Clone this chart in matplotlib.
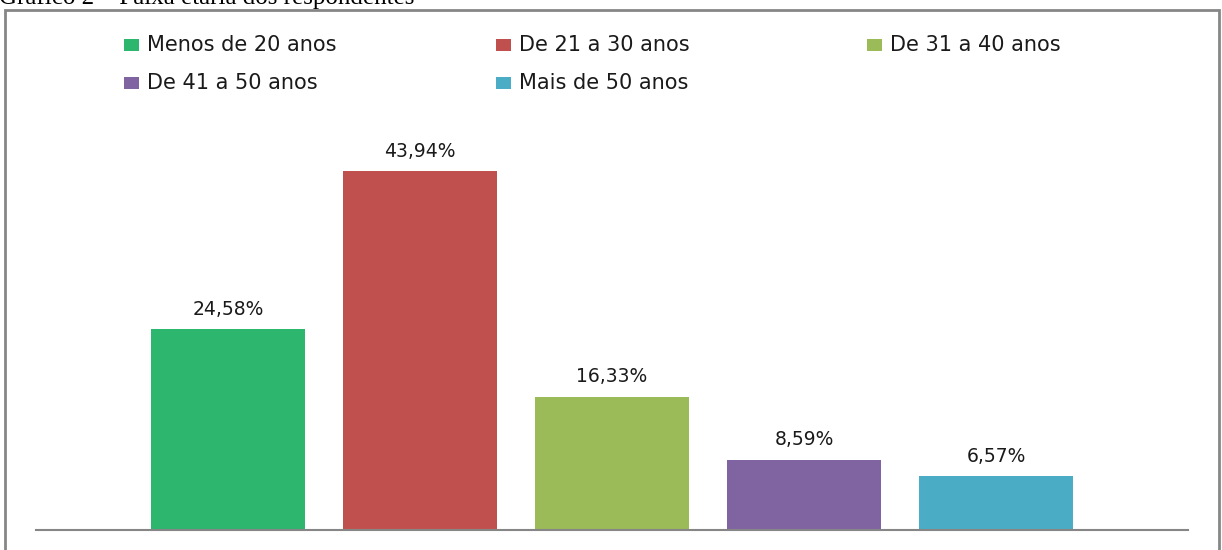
import matplotlib
matplotlib.use("Agg")
import matplotlib.pyplot as plt
from matplotlib.patches import Rectangle

categories = ["Menos de 20 anos", "De 21 a 30 anos", "De 31 a 40 anos",
              "De 41 a 50 anos", "Mais de 50 anos"]
values = [24.58, 43.94, 16.33, 8.59, 6.57]
value_labels = ["24,58%", "43,94%", "16,33%", "8,59%", "6,57%"]
colors = ["#2DB66E", "#C0504D", "#9BBB59", "#8064A2", "#4BACC6"]
title = "Gráfico 2 – Faixa etária dos respondentes"

W, H = 1222, 550
fig = plt.figure(figsize=(W / 100, H / 100), dpi=100)

def fx(px):
    return px / W

def fy(py):
    return 1 - py / H

# Caption at the very top (clipped by the image edge as in the original)
fig.text(fx(-1), fy(4), title, family="Liberation Serif", fontsize=18,
         va="baseline", ha="left", color="black")

# Outer chart frame (bottom continues beyond the image)
frame = Rectangle((fx(5), fy(600)), fx(1219) - fx(5), fy(10) - fy(600),
                  transform=fig.transFigure, fill=False, edgecolor="#868686",
                  linewidth=2, clip_on=False)
fig.patches.append(frame)

ax = fig.add_axes([fx(36), fy(530), fx(1188) - fx(36), fy(122) - fy(530)])
x = list(range(len(values)))
bars = ax.bar(x, values, width=0.8, color=colors)
ax.set_xlim(-1, 5)
ax.set_ylim(0, 50)
for s in ["top", "right", "left"]:
    ax.spines[s].set_visible(False)
ax.spines["bottom"].set_color("#868686")
ax.spines["bottom"].set_linewidth(1.5)
ax.set_xticks([])
ax.set_yticks([])

for xi, v, lab in zip(x, values, value_labels):
    ax.annotate(lab, (xi, v), xytext=(0, 14.5), textcoords="offset points",
                ha="center", va="center", fontsize=13.5, color="#1a1a1a",
                family="DejaVu Sans")

# Legend laid out like the original (row-wise, 3 columns)
col_x = [124, 496, 867]
row_y = [45, 83]
for i, (name, c) in enumerate(zip(categories, colors)):
    r, col = divmod(i, 3)
    px, py = col_x[col], row_y[r]
    fig.patches.append(Rectangle((fx(px), fy(py + 6)), fx(15), 12 / H,
                                 transform=fig.transFigure, facecolor=c,
                                 edgecolor="none"))
    fig.text(fx(px + 23), fy(py), name, fontsize=15, va="center", ha="left",
             color="#1a1a1a", family="DejaVu Sans")

fig.savefig("out.png", dpi=100)
